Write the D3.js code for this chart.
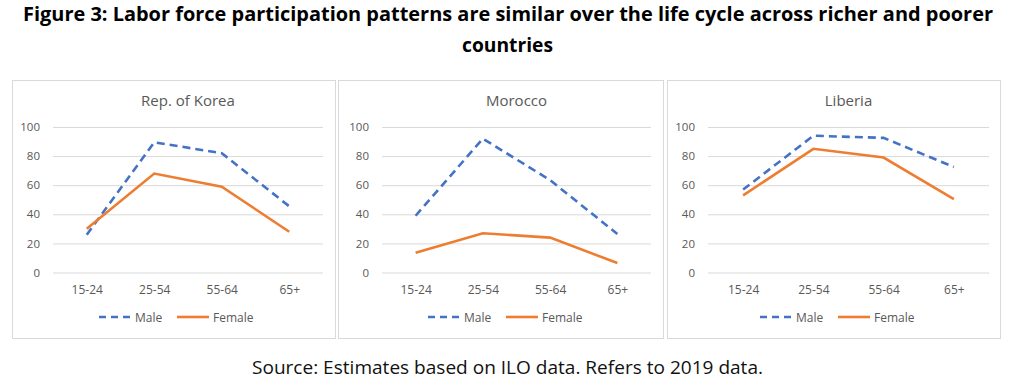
<!DOCTYPE html>
<html><head><meta charset="utf-8">
<script src="https://cdn.jsdelivr.net/npm/d3@7"></script>
<style>body{margin:0;background:#fff}svg{display:block}</style>
</head><body>
<script>
const categories = ["15-24","25-54","55-64","65+"];
const yTicks = [0,20,40,60,80,100];
const countries = ["Rep. of Korea","Morocco","Liberia"];
const koreaMale = [26,89.5,82,45.5];
const koreaFemale = [30,68,59,28];
const moroccoMale = [39,92,63.5,26.5];
const moroccoFemale = [13.5,27,24,6.5];
const liberiaMale = [57,94,92.5,72.5];
const liberiaFemale = [53,85,79,50.5];
const seriesNames = ["Male","Female"];

const W=1022,H=379;
const svg=d3.select("body").append("svg").attr("width",W).attr("height",H);
const font="'Open Sans', sans-serif";

const title1="Figure 3: Labor force participation patterns are similar over the life cycle across richer and poorer";
svg.append("text").attr("x",508).attr("y",21).attr("text-anchor","middle")
  .attr("font-family",font).attr("font-weight","bold").attr("font-size",19)
  .attr("textLength",970).attr("lengthAdjust","spacingAndGlyphs").text(title1);
svg.append("text").attr("x",507.5).attr("y",52).attr("text-anchor","middle")
  .attr("font-family",font).attr("font-weight","bold").attr("font-size",19)
  .attr("textLength",91).attr("lengthAdjust","spacingAndGlyphs").text("countries");
svg.append("text").attr("x",507.5).attr("y",374).attr("text-anchor","middle")
  .attr("font-family",font).attr("font-size",18).attr("fill","#111")
  .attr("textLength",511).attr("lengthAdjust","spacingAndGlyphs")
  .text("Source: Estimates based on ILO data. Refers to 2019 data.");

const panels=[
  {box:[12,80,323,258], plot:[53,323], male:koreaMale, female:koreaFemale, legendX:[99,177]},
  {box:[338,80,325,258], plot:[382,651], male:moroccoMale, female:moroccoFemale, legendX:[428,506]},
  {box:[667,80,333,258], plot:[708,989], male:liberiaMale, female:liberiaFemale, legendX:[760,838]}
];
const colors={Male:"#4472C4",Female:"#ED7D31"};

panels.forEach((p,i)=>{
  const g=svg.append("g");
  g.append("rect").attr("x",p.box[0]+0.5).attr("y",p.box[1]+0.5).attr("width",p.box[2]).attr("height",p.box[3])
    .attr("fill","#fff").attr("stroke","#d9d9d9");
  g.append("text").attr("x",(p.plot[0]+p.plot[1])/2).attr("y",106).attr("text-anchor","middle")
    .attr("font-family",font).attr("font-size",15).attr("fill","#595959").text(countries[i]);
  const x=d3.scalePoint().domain(categories).range(p.plot).padding(0.5);
  const y=d3.scaleLinear().domain([0,100]).range([272.5,127]);
  const ya=g.append("g").attr("transform",`translate(${p.plot[0]},0)`)
    .call(d3.axisLeft(y).tickValues(yTicks).tickSize(-(p.plot[1]-p.plot[0])).tickPadding(13));
  ya.select(".domain").remove();
  ya.selectAll("line").attr("stroke","#d9d9d9");
  ya.selectAll("text").attr("font-family",font).attr("font-size",11.5).attr("fill","#595959");
  const xa=g.append("g").attr("transform","translate(0,272.5)").call(d3.axisBottom(x).tickSize(0).tickPadding(13));
  xa.select(".domain").remove();
  xa.selectAll("text").attr("font-family",font).attr("font-size",12).attr("fill","#595959");
  const line=d3.line().x((d,j)=>x(categories[j])).y(d=>y(d));
  [["Male",p.male],["Female",p.female]].forEach(([n,vals])=>{
    g.append("path").datum(vals).attr("d",line).attr("fill","none").attr("stroke",colors[n])
      .attr("stroke-width",2.6).attr("stroke-dasharray",n==="Male"?"8,5":null);
  });
  seriesNames.forEach((n,k)=>{
    const lx=p.legendX[k];
    g.append("line").attr("x1",lx).attr("x2",lx+32).attr("y1",317).attr("y2",317)
      .attr("stroke",colors[n]).attr("stroke-width",2.6).attr("stroke-dasharray",n==="Male"?"7,5":null);
    g.append("text").attr("x",lx+36).attr("y",322).attr("font-family",font).attr("font-size",12)
      .attr("fill","#595959").text(n);
  });
});
</script>
</body></html>
